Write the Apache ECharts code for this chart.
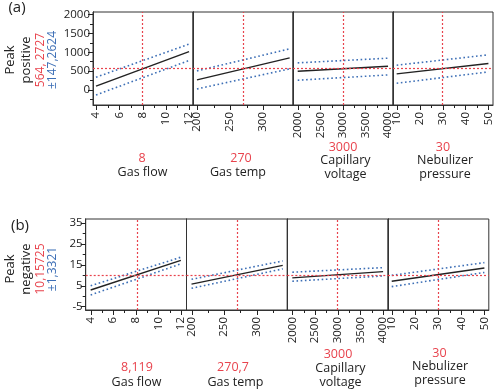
<!DOCTYPE html>
<html><head><meta charset="utf-8">
<script src="https://cdn.jsdelivr.net/npm/echarts@6/dist/echarts.min.js"></script>
<style>html,body{margin:0;padding:0;background:#fff}#c{width:500px;height:392px}</style>
</head><body><div id="c"></div>
<script>
// ---- data ----
const factorNames = ['Gas flow', 'Gas temp', 'Capillary\nvoltage', 'Nebulizer\npressure'];
const xEnds = [[4, 12], [200, 340], [2000, 4000], [10, 50]];
// (a) Peak positive
const posPred  = [[100, 1020], [267, 853], [498, 631], [427, 702]];
const posUpper = [[338, 1218], [507, 1093], [720, 844], [658, 933]];
const posLower = [[-133, 782], [27, 560], [258, 400], [178, 480]];
const posSettings = [8, 270, 3000, 30];
const posSettingLabels = ['8', '270', '3000', '30'];
const posResponse = 564.2727;
// (b) Peak negative
const negPred  = [[3.0, 17.2], [5.8, 14.8], [8.8, 11.8], [7.2, 13.5]];
const negUpper = [[5.0, 18.7], [8.1, 16.9], [11.5, 13.7], [10.0, 16.1]];
const negLower = [[0.6, 15.5], [3.8, 13.1], [7.2, 9.7], [4.6, 11.4]];
const negSettings = [8.119, 270.7, 3000, 30];
const negSettingLabels = ['8,119', '270,7', '3000', '30'];
const negResponse = 10.15725;
// tick labels
const xMajor = [[4, 6, 8, 10, 12], [200, 250, 300], [2000, 2500, 3000, 3500, 4000], [10, 20, 30, 40, 50]];
const xMinor = [[5, 7, 9, 11], [225, 275, 325], [2250, 2750, 3250, 3750], [15, 25, 35, 45]];
const yMajorPos = [0, 500, 1000, 1500, 2000];
const yMinorPos = [-250, 250, 750, 1250, 1750];
const yMajorNeg = [-5, 5, 15, 25, 35];
const yMinorNeg = [0, 10, 20, 30];
const yTitlePos = ['Peak', 'positive', '564, 2727', '±147,2624'];
const yTitleNeg = ['Peak', 'negative', '10,15725', '±1,3321'];

// ---- layout ----
const RED = '#e8434d', BLUE = '#3d6fb6', FONT = '"Open Sans", "Noto Sans", sans-serif';
const rows = [
  { top: 12, height: 93, lefts: [93, 193, 293, 393], width: 100,
    xRange: [[3.74, 12.34], [194, 345], [1896, 4110], [8.4, 52]], yRange: [-400, 2072],
    pred: posPred, up: posUpper, lo: posLower, set: posSettings, resp: posResponse,
    yMaj: yMajorPos, yMin: yMinorPos },
  { top: 219, height: 91, lefts: [85.7, 186.5, 287.3, 388], width: 100.8,
    xRange: [[3.56, 12.5], [192.3, 347], [1890, 4110], [8.4, 51.9]], yRange: [-6.6, 37],
    pred: negPred, up: negUpper, lo: negLower, set: negSettings, resp: negResponse,
    yMaj: yMajorNeg, yMin: yMinorNeg }
];

const AXL = { show: true, onZero: false, lineStyle: { color: '#333', width: 1 } };
const grid = [], xAxis = [], yAxis = [], series = [];
function tickSeries(gi, vals, yBase, len) {
  return { type: 'custom', xAxisIndex: gi, yAxisIndex: gi * 2, silent: true, clip: false, z: 5,
    data: vals.map(v => [v, yBase]),
    renderItem: (params, api) => {
      const p = api.coord([api.value(0), api.value(1)]);
      const x = Math.round(p[0]) + 0.5, y = Math.round(p[1]);
      return { type: 'line', shape: { x1: x, y1: y, x2: x, y2: y + len }, style: { stroke: '#222', lineWidth: 1 } };
    } };
}
rows.forEach((r, ri) => {
  for (let c = 0; c < 4; c++) {
    const gi = grid.length;
    grid.push({ left: r.lefts[c], top: r.top, width: r.width, height: r.height,
      show: true, borderColor: '#333', borderWidth: 1, backgroundColor: 'transparent' });
    const xr = r.xRange[c];
    xAxis.push({ type: 'value', gridIndex: gi, min: xr[0], max: xr[1], position: 'bottom',
      axisLine: AXL, splitLine: { show: false },
      axisTick: { show: false },
      axisLabel: { show: true, rotate: 90, margin: 7, fontSize: 11.5, fontFamily: FONT, color: '#222',
        customValues: xMajor[c], formatter: v => String(v) } });
    const showY = c === 0;
    yAxis.push({ type: 'value', gridIndex: gi, min: r.yRange[0], max: r.yRange[1], position: 'left',
      axisLine: AXL, splitLine: { show: false },
      axisTick: { show: showY, length: 5, customValues: r.yMaj, lineStyle: { color: '#222' } },
      axisLabel: { show: showY, margin: 3, fontSize: 11.5, fontFamily: FONT, color: '#222',
        customValues: r.yMaj, formatter: v => String(v) } });
    yAxis.push({ type: 'value', gridIndex: gi, min: r.yRange[0], max: r.yRange[1], position: 'left',
      axisLine: AXL, splitLine: { show: false },
      axisTick: { show: showY, length: 3, customValues: r.yMin, lineStyle: { color: '#222' } },
      axisLabel: { show: false } });
    const xi = gi, yi = gi * 2;
    const xs = xEnds[c];
    const mk = arr => [[xs[0], arr[c][0]], [xs[1], arr[c][1]]];
    series.push({ type: 'line', xAxisIndex: xi, yAxisIndex: yi, data: mk(r.up), symbol: 'none', silent: true,
      lineStyle: { color: BLUE, width: 1.6, type: [1.6, 2.6] } });
    series.push({ type: 'line', xAxisIndex: xi, yAxisIndex: yi, data: mk(r.lo), symbol: 'none', silent: true,
      lineStyle: { color: BLUE, width: 1.6, type: [1.6, 2.6] } });
    series.push({ type: 'line', xAxisIndex: xi, yAxisIndex: yi, data: mk(r.pred), symbol: 'none', silent: true,
      lineStyle: { color: '#222', width: 1.4 }, z: 3,
      markLine: { silent: true, symbol: 'none', label: { show: false }, emphasis: { disabled: true },
        lineStyle: { color: RED, width: 1.2, type: [2, 2], opacity: 1 },
        data: [{ xAxis: r.set[c] }, { yAxis: r.resp }] } });
    series.push(tickSeries(gi, xMajor[c], r.yRange[0], 5));
    series.push(tickSeries(gi, xMinor[c], r.yRange[0], 3));
  }
});

const graphic = [];
function txt(x, y, s, color, size, rot) {
  graphic.push({ type: 'text', x: x, y: y, rotation: rot || 0, silent: true,
    style: { text: s, fill: color, font: size + 'px ' + FONT, align: 'center', verticalAlign: 'middle' } });
}
txt(17, 8, '(a)', '#222', 15);
txt(20, 226, '(b)', '#222', 15);
const yt = [[yTitlePos, 60], [yTitleNeg, 269]];
const ytx = [10, 26, 41, 53];
const ytc = ['#222', '#222', RED, BLUE];
yt.forEach(([arr, cy]) => arr.forEach((s, i) => txt(ytx[i], cy, s, ytc[i], i < 2 ? 13 : 12, Math.PI / 2)));

// bottom labels
const topLbl = [
  [[142, 158, posSettingLabels[0], RED], [142.5, 172.5, 'Gas flow', '#222']],
  [[241, 158, posSettingLabels[1], RED], [238, 172.5, 'Gas temp', '#222']],
  [[343, 147, posSettingLabels[2], RED], [345.5, 160, factorNames[2].split('\n')[0], '#222'], [345.5, 174, factorNames[2].split('\n')[1], '#222']],
  [[443, 147, posSettingLabels[3], RED], [445, 160, factorNames[3].split('\n')[0], '#222'], [445, 174, factorNames[3].split('\n')[1], '#222']]
];
const botLbl = [
  [[137, 367, negSettingLabels[0], RED], [136.5, 382, 'Gas flow', '#222']],
  [[233, 367, negSettingLabels[1], RED], [235.5, 382, 'Gas temp', '#222']],
  [[338, 354.5, negSettingLabels[2], RED], [340.5, 368, factorNames[2].split('\n')[0], '#222'], [340.5, 382, factorNames[2].split('\n')[1], '#222']],
  [[439.5, 353, negSettingLabels[3], RED], [440, 366, factorNames[3].split('\n')[0], '#222'], [440, 380, factorNames[3].split('\n')[1], '#222']]
];
[topLbl, botLbl].forEach(g => g.forEach(items => items.forEach(([x, y, s, col]) => txt(x, y, s, col, 12.5))));

const chart = echarts.init(document.getElementById('c'), null, { renderer: 'canvas' });
chart.setOption({ animation: false, backgroundColor: '#fff', grid, xAxis, yAxis, series, graphic });
</script></body></html>
